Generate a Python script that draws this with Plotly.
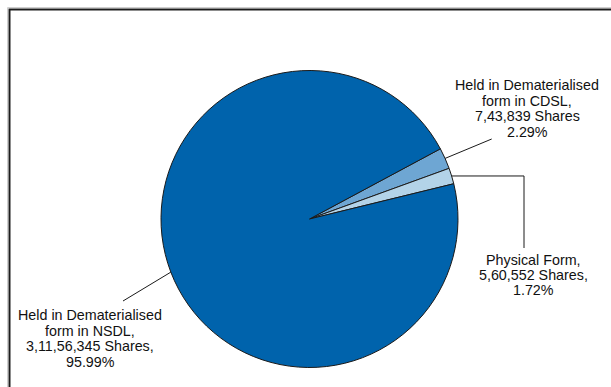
import numpy as np
import plotly.graph_objects as go

W, H = 611, 387

categories = ["Held in Dematerialised form in CDSL", "Physical Form", "Held in Dematerialised form in NSDL"]
shares = [743839, 560552, 31156345]
label_lines = [
    ["Held in Dematerialised", "form in CDSL,", "7,43,839 Shares", "2.29%"],
    ["Physical Form,", "5,60,552 Shares,", "1.72%"],
    ["Held in Dematerialised", "form in NSDL,", "3,11,56,345 Shares,", "95.99%"],
]
colors = ["#6EA6D3", "#B3D3E8", "#0063AC"]

# pie geometry (pixels)
cx, cy, r = 309.5, 219.0, 148.5
rotation = 61.8  # degrees clockwise from 12 o'clock


def px(x):
    return x / W


def py(y):
    return 1 - y / H


fig = go.Figure(go.Pie(
    labels=categories,
    values=shares,
    sort=False,
    direction="clockwise",
    rotation=rotation,
    marker=dict(colors=colors, line=dict(color="#1a1a1a", width=1)),
    textinfo="none",
    hoverinfo="label+value+percent",
    domain=dict(x=[px(cx - r), px(cx + r)], y=[py(cy + r), py(cy - r)]),
    showlegend=False,
))

# anchor points on the pie edge at each slice's mid angle
vals = np.array(shares, dtype=float)
frac = vals / vals.sum()
cum = np.cumsum(frac) - frac / 2
mid_cw = rotation + cum * 360.0  # clockwise from 12 o'clock
anchors = [(cx + r * np.sin(np.radians(a)), cy - r * np.cos(np.radians(a))) for a in mid_cw]

shapes = []
line_style = dict(color="#1a1a1a", width=1)
ax, ay = anchors[0]
shapes.append(dict(type="line", xref="paper", yref="paper", x0=px(ax), y0=py(ay),
                   x1=px(491.7), y1=py(139), line=line_style))
ax, ay = anchors[1]
shapes.append(dict(type="path", xref="paper", yref="paper",
                   path=f"M {px(ax)} {py(ay)} L {px(524)} {py(ay)} L {px(524)} {py(248)}",
                   line=line_style))
ax, ay = anchors[2]
shapes.append(dict(type="line", xref="paper", yref="paper", x0=px(ax), y0=py(ay),
                   x1=px(123), y1=py(301), line=line_style))
# outer frame (light shadow + dark line)
shapes.append(dict(type="rect", xref="paper", yref="paper", x0=px(7.5), y0=-0.1,
                   x1=1.1, y1=py(7.5), line=dict(color="#cfcfcf", width=1)))
shapes.append(dict(type="rect", xref="paper", yref="paper", x0=px(9.5), y0=-0.1,
                   x1=1.1, y1=py(9.5), line=dict(color="#1c1c1c", width=2)))

# label blocks: (center x, first baseline y, line step)
label_pos = [(527, 90, 15.6), (533, 265, 15.2), (90, 320, 15.7)]
annotations = []
for lines, (x, y0, step) in zip(label_lines, label_pos):
    for i, t in enumerate(lines):
        annotations.append(dict(text=t, x=px(x), y=py(y0 + i * step - 5), xref="paper", yref="paper",
                                xanchor="center", yanchor="middle", align="center",
                                showarrow=False, font=dict(size=14.3, color="#111111")))

fig.update_layout(
    width=W, height=H,
    margin=dict(l=0, r=0, t=0, b=0),
    paper_bgcolor="white",
    plot_bgcolor="white",
    font=dict(family="Liberation Sans, Arial, sans-serif", size=14, color="#111111"),
    shapes=shapes,
    annotations=annotations,
)

fig.write_html("out.html", config={"displayModeBar": False},
               post_script="document.body.style.margin='0px';")
